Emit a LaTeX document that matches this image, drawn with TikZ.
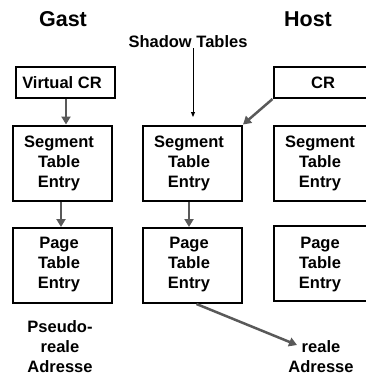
\documentclass[tikz,border=0pt]{standalone}
\usepackage{fontspec}
\setmainfont{Liberation Sans}
\usetikzlibrary{arrows.meta}
\definecolor{arrowgray}{HTML}{595959}
\begin{document}
\begin{tikzpicture}[x=1pt,y=-1pt,
  every node/.style={font=\fontsize{16.5}{20}\selectfont\bfseries, align=center, inner sep=0pt},
  tablebox/.style={draw=black, line width=2pt, minimum width=99pt, minimum height=75pt},
  crbox/.style={draw=black, line width=2pt, minimum width=99pt, minimum height=31pt},
  title/.style={font=\fontsize{21.5}{24}\selectfont\bfseries},
  link/.style={draw=arrowgray, line width=2.5pt, -{Triangle[length=8pt,width=9pt]}},
  thin link/.style={draw=black, line width=1pt, -{Triangle[length=5pt,width=4pt]}}]
\useasboundingbox (0,0) rectangle (365,380);

% headings
\node[title] (gast) at (63,19) {Gast};
\node[title] (host) at (308,19) {Host};
\node (shadow) at (188,42) {Shadow Tables};

% control registers
\node[crbox] (vcr) at (65.5,82.5) {};
\node (vcrtext) at (62,82.5) {Virtual CR};
\node[crbox] (cr) at (323,82.5) {};
\node (crtext) at (323,82.5) {CR};

% segment table entries
\node[tablebox] (seg1) at (62.5,163) {};
\node[tablebox] (seg2) at (192.5,163) {};
\node[tablebox] (seg3) at (323,163) {};
\node (seg1text) at (59,163) {Segment\\Table\\Entry};
\node (seg2text) at (189,163) {Segment\\Table\\Entry};
\node (seg3text) at (320,163) {Segment\\Table\\Entry};

% page table entries
\node[tablebox] (page1) at (62.5,265.5) {};
\node[tablebox] (page2) at (192.5,265.5) {};
\node[tablebox] (page3) at (323,263) {};
\node (page1text) at (59,265) {Page\\Table\\Entry};
\node (page2text) at (189,265) {Page\\Table\\Entry};
\node (page3text) at (320,265) {Page\\Table\\Entry};

% resulting addresses
\node (pseudo) at (60,347) {Pseudo-\\reale\\Adresse};
\node (real) at (321,357) {reale\\Adresse};

% connectors
\coordinate (shadowtip) at (193,117);
\coordinate (realtip) at (297,345);
\draw[thin link] (shadow.south -| shadowtip) -- (shadowtip);
\draw[link] ([xshift=0.5pt]vcr.south) -- ([xshift=0.5pt]vcr.south |- seg1.north);
\draw[link] ([xshift=-1.5pt]seg1.south) -- ([xshift=-1.5pt]page1.north);
\draw[link] ([xshift=-3.5pt]seg2.south) -- ([xshift=-3.5pt]page2.north);
\draw[link] (cr.south west) -- (seg2.north east);
\draw[link] ([xshift=4pt]page2.south) -- (realtip);
\end{tikzpicture}
\end{document}
